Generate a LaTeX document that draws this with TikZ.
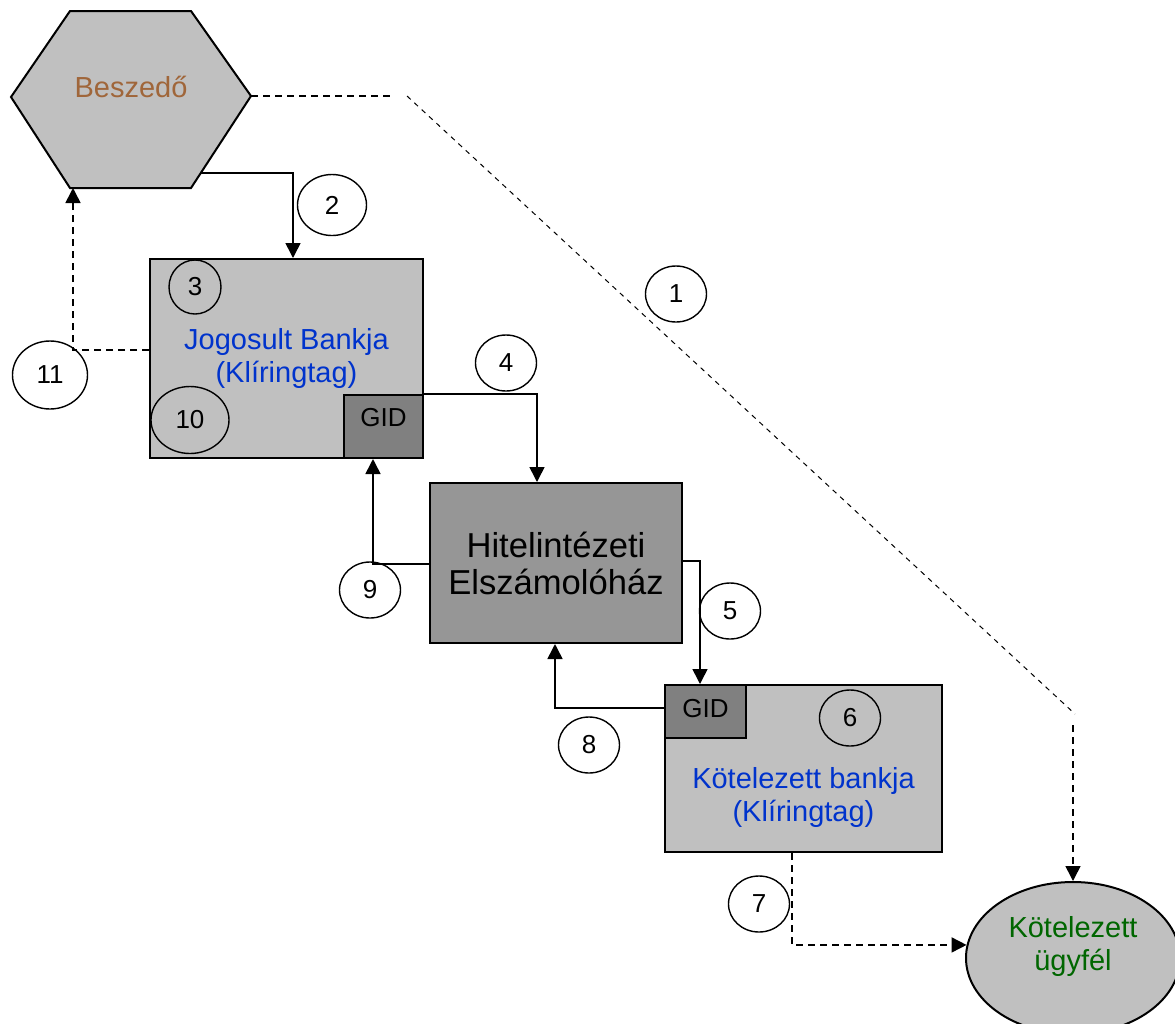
\documentclass[tikz,border=0pt]{standalone}
\usepackage{fontspec}
\setmainfont{Liberation Sans}
\usepackage{tikz}
\usetikzlibrary{shapes.geometric,arrows.meta}
\definecolor{boxgray}{HTML}{C0C0C0}
\definecolor{gidgray}{HTML}{808080}
\definecolor{hegray}{HTML}{969696}
\definecolor{bankblue}{HTML}{0033CC}
\definecolor{beszbrown}{HTML}{A0663A}
\definecolor{ugygreen}{HTML}{006600}

\begin{document}
\begin{tikzpicture}[x=0.5pt, y=-0.5pt,
  arr/.style={line width=0.8pt, -{Triangle[length=7.5pt,width=7.5pt]}},
  darr/.style={arr, dash pattern=on 3.5pt off 2.5pt},
  bank/.style={draw, line width=1pt, fill=boxgray, anchor=north west, inner sep=0pt},
  gid/.style={bank, fill=gidgray, font=\fontsize{13}{15}\selectfont},
  num/.style={ellipse, draw, line width=0.7pt, minimum width=30.5pt, minimum height=28pt,
    inner sep=0pt, font=\fontsize{13}{15}\selectfont},
  blue text/.style={text=bankblue, align=center, font=\fontsize{14.5}{16.5}\selectfont}]
  \useasboundingbox (0,0) rectangle (1175,1024);

  % Beszedo
  \coordinate (hex-e) at (251,96);
  \coordinate (hex-se) at (201,173);
  \coordinate (hex-s) at (73,188);
  \filldraw[fill=boxgray, line width=1pt] (70,11) -- (191,11) -- (hex-e) -- (191,188) -- (70,188) -- (11,97) -- cycle;
  \node[text=beszbrown, font=\fontsize{14.5}{16.5}\selectfont] (besz) at (131,87) {Beszedő};

  % boxes
  \node[bank, minimum width=136.5pt, minimum height=99.5pt, blue text] (jog) at (149,258) {Jogosult Bankja\\(Klíringtag)};
  \node[gid, minimum width=39.5pt, minimum height=31.5pt, text depth=9.5pt] (jgid) at (343,394) {GID};
  \node[bank, fill=hegray, minimum width=126pt, minimum height=80pt, align=center,
    font=\fontsize{17.3}{18.5}\selectfont] (hez) at (429,482) {Hitelintézeti\\Elszámolóház};
  \node[bank, minimum width=138.5pt, minimum height=83.5pt] (kot) at (664,684) {};
  \node[blue text] (kotlbl) at ([yshift=-14.25pt]kot.center) {Kötelezett bankja\\(Klíringtag)};
  \node[gid, minimum width=40.5pt, minimum height=26.5pt, text depth=3.5pt] (kgid) at (664,684) {GID};
  \node[ellipse, draw, line width=1pt, fill=boxgray, minimum width=107pt, minimum height=76pt] (ugyf) at (1073,958) {};
  \node[text=ugygreen, align=center, font=\fontsize{14.5}{16.5}\selectfont] (ugylbl) at ([yshift=6pt]ugyf.center) {Kötelezett\\ügyfél};

  % steps
  \node[num] (n1) at (676,294) {1};
  \node[num, minimum width=34.5pt, minimum height=30.5pt] (n2) at (332,205) {2};
  \node[num, minimum width=26pt, minimum height=27pt] (n3) at (195,287) {3};
  \node[num] (n4) at (506,363) {4};
  \node[num] (n5) at (730,611) {5};
  \node[num] (n6) at (850,718) {6};
  \node[num] (n7) at (759,904) {7};
  \node[num] (n8) at (589,745) {8};
  \node[num] (n9) at (370,590) {9};
  \node[num, minimum width=39pt, minimum height=33.5pt] (n10) at (190,420) {10};
  \node[num, minimum width=37.5pt, minimum height=34pt] (n11) at (50,375) {11};

  \draw[arr] (hex-se) -| (293,0 |- jog.north);
  \draw[arr] (jgid.north east) -| (537,0 |- hez.north);
  \draw[arr] (hez.east |- 0,561) -| (700,0 |- kgid.north);
  \draw[arr] (kot.west |- 0,708) -| (555,0 |- hez.south);
  \draw[arr] (hez.west |- 0,564) -| (373,0 |- jgid.south);
  \draw[darr] (792,0 |- kot.south) |- (ugyf.173.5);
  \draw[darr] (jog.west |- 0,350) -| (hex-s);
  \draw[dash pattern=on 3.5pt off 2.5pt, line width=0.6pt] (hex-e) -- (392,96);
  \draw[dash pattern=on 2.5pt off 2.5pt, line width=0.5pt] (407,96) -- (1075,714);
  \draw[darr] (1073,725) -- (ugyf.north);
\end{tikzpicture}
\end{document}
